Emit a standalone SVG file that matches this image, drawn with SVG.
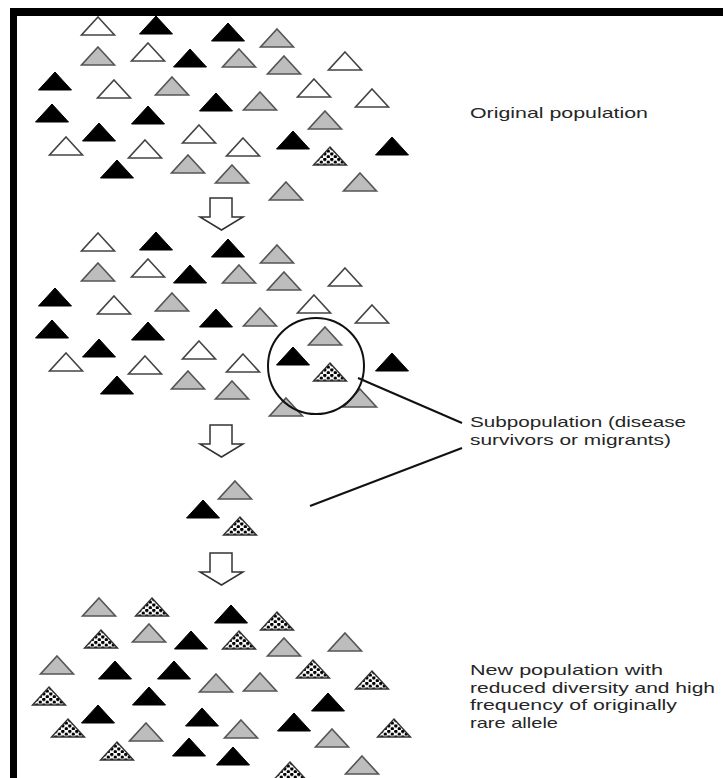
<svg xmlns="http://www.w3.org/2000/svg" xmlns:xlink="http://www.w3.org/1999/xlink" width="723" height="778" viewBox="0 0 723 778">
<style>
.w{fill:#fff;stroke:#444;stroke-width:1.6;stroke-linejoin:miter}
.g{fill:#bdbdbd;stroke:#555;stroke-width:1.6}
.b{fill:#000;stroke:#000;stroke-width:1}
.d{fill:url(#dots);stroke:#333;stroke-width:1.4}
.lbl{font-family:"Liberation Sans",Arial,sans-serif;font-size:15px;fill:#262626}
.arrow{fill:#fff;stroke:#333;stroke-width:1.5;stroke-linejoin:miter}
.line{fill:none;stroke:#111;stroke-width:2}
</style>
<defs>
<pattern id="dots" patternUnits="userSpaceOnUse" width="7" height="5.5">
<rect width="7" height="5.5" fill="#fff"/>
<circle cx="1.8" cy="1.4" r="1.7" fill="#000"/>
<circle cx="5.3" cy="4.2" r="1.7" fill="#000"/>
</pattern>
<path id="t" d="M0,0 L16.5,18 L-16.5,18 Z"/>
</defs>
<rect width="723" height="778" fill="#fff"/>
<g id="frame">
<rect x="10" y="8" width="713" height="8" fill="#000"/>
<rect x="10" y="8" width="7" height="770" fill="#000"/>
</g>
<g id="original-population">
<use href="#t" class="w" x="98" y="17"/>
<use href="#t" class="b" x="156" y="16"/>
<use href="#t" class="b" x="228" y="23"/>
<use href="#t" class="g" x="277" y="29"/>
<use href="#t" class="g" x="98" y="47"/>
<use href="#t" class="w" x="148" y="43"/>
<use href="#t" class="b" x="190" y="49"/>
<use href="#t" class="g" x="239" y="49"/>
<use href="#t" class="g" x="284" y="56"/>
<use href="#t" class="w" x="345" y="52"/>
<use href="#t" class="b" x="55" y="72"/>
<use href="#t" class="w" x="114" y="80"/>
<use href="#t" class="g" x="172" y="77"/>
<use href="#t" class="w" x="314" y="79"/>
<use href="#t" class="b" x="216" y="93"/>
<use href="#t" class="g" x="260" y="92"/>
<use href="#t" class="w" x="372" y="89"/>
<use href="#t" class="b" x="52" y="104"/>
<use href="#t" class="b" x="148" y="106"/>
<use href="#t" class="g" x="325" y="111"/>
<use href="#t" class="b" x="99" y="123"/>
<use href="#t" class="w" x="199" y="125"/>
<use href="#t" class="w" x="66" y="137"/>
<use href="#t" class="w" x="145" y="140"/>
<use href="#t" class="w" x="243" y="138"/>
<use href="#t" class="b" x="293" y="131"/>
<use href="#t" class="d" x="330" y="147"/>
<use href="#t" class="b" x="392" y="137"/>
<use href="#t" class="b" x="117" y="160"/>
<use href="#t" class="g" x="188" y="155"/>
<use href="#t" class="g" x="232" y="165"/>
<use href="#t" class="g" x="360" y="173"/>
<use href="#t" class="g" x="286" y="182"/>
</g>
<g id="population-with-subpopulation" transform="translate(0,216)">
<use href="#t" class="w" x="98" y="17"/>
<use href="#t" class="b" x="156" y="16"/>
<use href="#t" class="b" x="228" y="23"/>
<use href="#t" class="g" x="277" y="29"/>
<use href="#t" class="g" x="98" y="47"/>
<use href="#t" class="w" x="148" y="43"/>
<use href="#t" class="b" x="190" y="49"/>
<use href="#t" class="g" x="239" y="49"/>
<use href="#t" class="g" x="284" y="56"/>
<use href="#t" class="w" x="345" y="52"/>
<use href="#t" class="b" x="55" y="72"/>
<use href="#t" class="w" x="114" y="80"/>
<use href="#t" class="g" x="172" y="77"/>
<use href="#t" class="w" x="314" y="79"/>
<use href="#t" class="b" x="216" y="93"/>
<use href="#t" class="g" x="260" y="92"/>
<use href="#t" class="w" x="372" y="89"/>
<use href="#t" class="b" x="52" y="104"/>
<use href="#t" class="b" x="148" y="106"/>
<use href="#t" class="g" x="325" y="111"/>
<use href="#t" class="b" x="99" y="123"/>
<use href="#t" class="w" x="199" y="125"/>
<use href="#t" class="w" x="66" y="137"/>
<use href="#t" class="w" x="145" y="140"/>
<use href="#t" class="w" x="243" y="138"/>
<use href="#t" class="b" x="293" y="131"/>
<use href="#t" class="d" x="330" y="147"/>
<use href="#t" class="b" x="392" y="137"/>
<use href="#t" class="b" x="117" y="160"/>
<use href="#t" class="g" x="188" y="155"/>
<use href="#t" class="g" x="232" y="165"/>
<use href="#t" class="g" x="360" y="173"/>
<use href="#t" class="g" x="286" y="182"/>
</g>
<g id="subpopulation-circle">
<circle cx="316" cy="366" r="48" fill="none" stroke="#111" stroke-width="2"/>
</g>
<g id="subpopulation">
<use href="#t" class="g" x="235" y="481"/>
<use href="#t" class="b" x="203" y="500"/>
<use href="#t" class="d" x="240" y="517"/>
</g>
<g id="new-population">
<use href="#t" class="g" x="99" y="598"/>
<use href="#t" class="d" x="152" y="598"/>
<use href="#t" class="b" x="231" y="605"/>
<use href="#t" class="d" x="277" y="612"/>
<use href="#t" class="d" x="101" y="630"/>
<use href="#t" class="g" x="149" y="624"/>
<use href="#t" class="b" x="191" y="631"/>
<use href="#t" class="d" x="239" y="631"/>
<use href="#t" class="g" x="284" y="638"/>
<use href="#t" class="g" x="345" y="633"/>
<use href="#t" class="g" x="57" y="656"/>
<use href="#t" class="b" x="115" y="661"/>
<use href="#t" class="b" x="174" y="661"/>
<use href="#t" class="d" x="313" y="660"/>
<use href="#t" class="g" x="216" y="674"/>
<use href="#t" class="g" x="260" y="673"/>
<use href="#t" class="d" x="372" y="671"/>
<use href="#t" class="d" x="49" y="687"/>
<use href="#t" class="b" x="149" y="687"/>
<use href="#t" class="b" x="328" y="693"/>
<use href="#t" class="b" x="98" y="705"/>
<use href="#t" class="b" x="202" y="708"/>
<use href="#t" class="d" x="68" y="719"/>
<use href="#t" class="g" x="146" y="723"/>
<use href="#t" class="g" x="241" y="720"/>
<use href="#t" class="b" x="294" y="713"/>
<use href="#t" class="d" x="394" y="719"/>
<use href="#t" class="d" x="117" y="742"/>
<use href="#t" class="b" x="189" y="738"/>
<use href="#t" class="b" x="233" y="747"/>
<use href="#t" class="g" x="332" y="729"/>
<use href="#t" class="d" x="290" y="762"/>
<use href="#t" class="g" x="362" y="756"/>
</g>
<g id="connectors">
<path class="arrow" d="M210,198 H232 V217 H243 L221.5,230 L200,217 H210 Z"/>
<path class="arrow" d="M210,425 H232 V444 H243 L221.5,457 L200,444 H210 Z"/>
<path class="arrow" d="M210,553 H232 V572 H243 L221.5,585 L200,572 H210 Z"/>
<line class="line" x1="358" y1="378" x2="462" y2="423"/>
<line class="line" x1="310" y1="506" x2="462" y2="448"/>
</g>
<g id="label-original">
<text class="lbl" x="470" y="118" textLength="178" lengthAdjust="spacingAndGlyphs">Original population</text>
</g>
<g id="label-subpopulation">
<text class="lbl" x="470" y="427" textLength="216" lengthAdjust="spacingAndGlyphs">Subpopulation (disease</text>
<text class="lbl" x="470" y="445" textLength="201" lengthAdjust="spacingAndGlyphs">survivors or migrants)</text>
</g>
<g id="label-new">
<text class="lbl" x="470" y="675" textLength="193" lengthAdjust="spacingAndGlyphs">New population with</text>
<text class="lbl" x="470" y="692.5" textLength="245" lengthAdjust="spacingAndGlyphs">reduced diversity and high</text>
<text class="lbl" x="470" y="710" textLength="207" lengthAdjust="spacingAndGlyphs">frequency of originally</text>
<text class="lbl" x="470" y="727.5" textLength="88" lengthAdjust="spacingAndGlyphs">rare allele</text>
</g>
</svg>
